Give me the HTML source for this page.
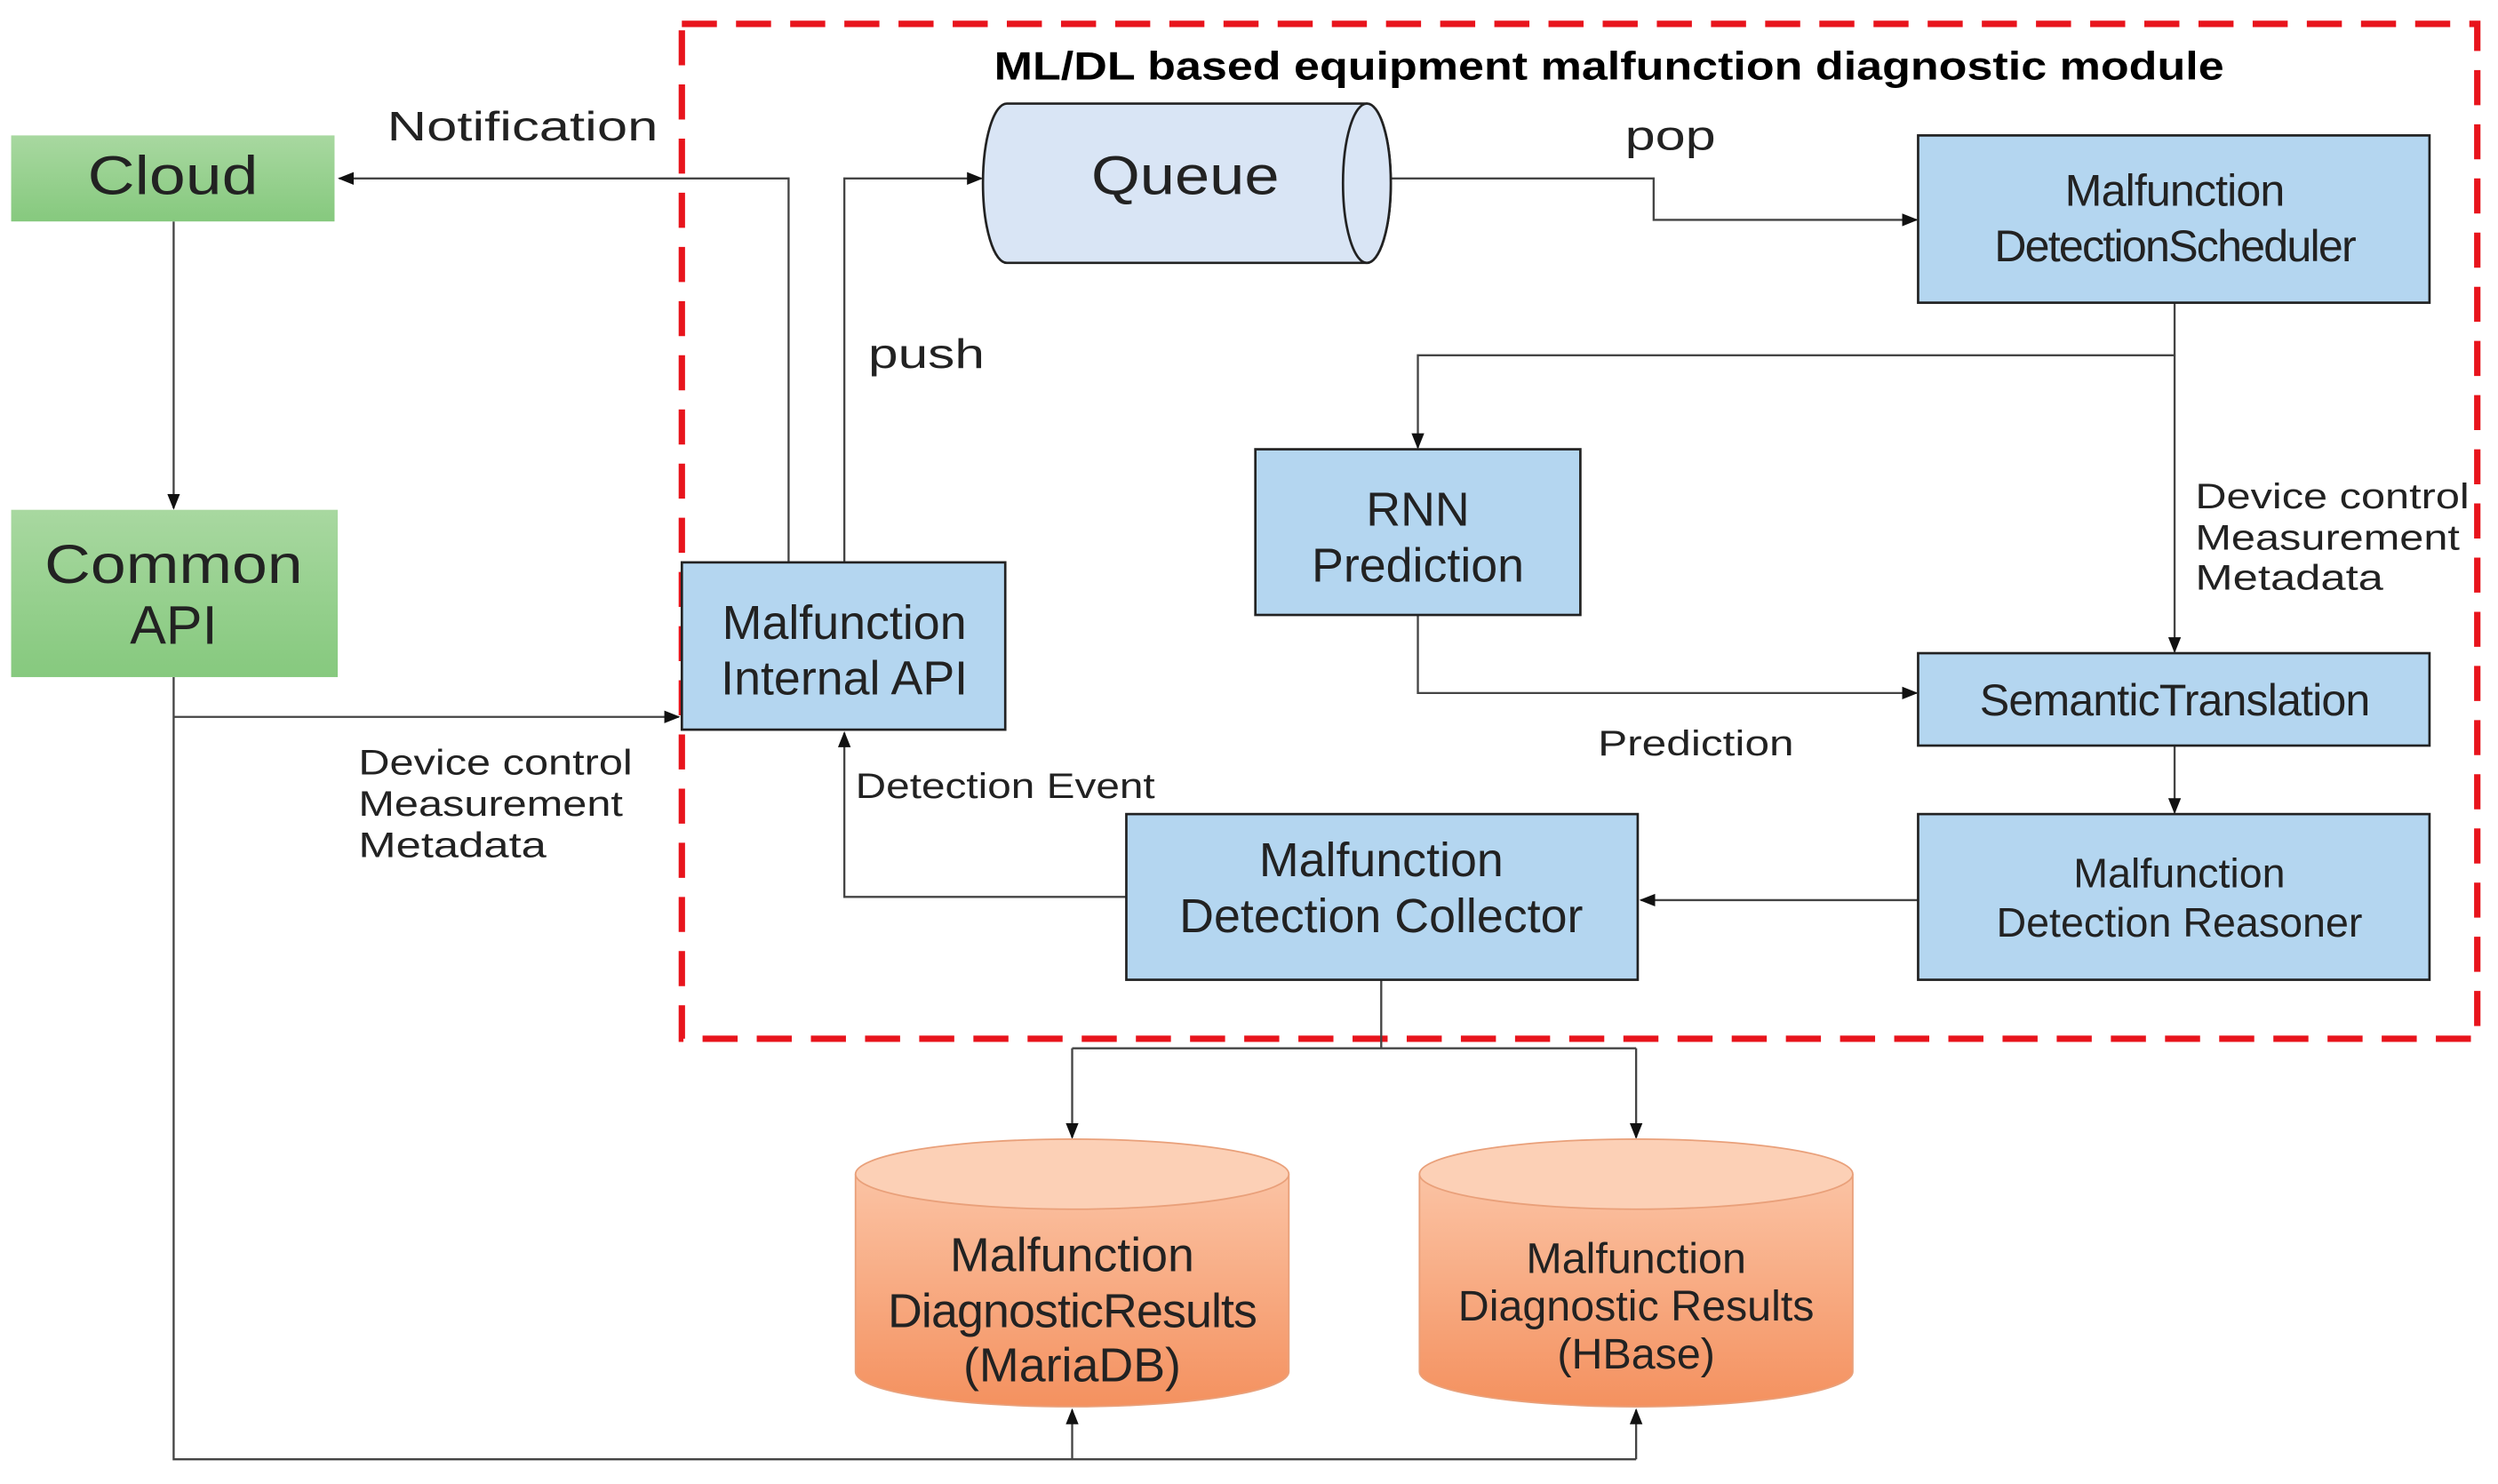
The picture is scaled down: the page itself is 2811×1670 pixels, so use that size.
<!DOCTYPE html>
<html><head><meta charset="utf-8"><style>html,body{margin:0;padding:0;background:#fff}svg{display:block}</style></head>
<body>
<svg width="2811" height="1670" viewBox="0 0 1568 931.5" preserveAspectRatio="none" xmlns="http://www.w3.org/2000/svg" font-family="'Liberation Sans', sans-serif">
<defs>
<linearGradient id="g" x1="0" y1="0" x2="0" y2="1"><stop offset="0" stop-color="#a8d8a0"/><stop offset="1" stop-color="#86c97e"/></linearGradient>
<linearGradient id="o" x1="0" y1="0" x2="0" y2="1"><stop offset="0" stop-color="#fbc3a4"/><stop offset="1" stop-color="#f4915f"/></linearGradient>
<marker id="a" markerWidth="10" markerHeight="10" refX="9" refY="5" orient="auto" markerUnits="userSpaceOnUse"><path d="M0,1 L10,5 L0,9 z" fill="#111"/></marker>
</defs>
<rect x="428" y="15" width="1127" height="637" fill="none" stroke="#e8141c" stroke-width="4" stroke-dasharray="22,12"/>
<text x="624" y="50" font-size="25" font-weight="bold" textLength="772" lengthAdjust="spacingAndGlyphs">ML/DL based equipment malfunction diagnostic module</text>
<g stroke="#444" stroke-width="1.3" fill="none">
<path d="M495,353 V112 H213" marker-end="url(#a)"/>
<path d="M530,353 V112 H616" marker-end="url(#a)"/>
<path d="M873,112 H1038 V138 H1203" marker-end="url(#a)"/>
<path d="M1365,190 V409" marker-end="url(#a)"/>
<path d="M1365,223 H890 V281" marker-end="url(#a)"/>
<path d="M890,386 V435 H1203" marker-end="url(#a)"/>
<path d="M1365,468 V510" marker-end="url(#a)"/>
<path d="M1204,565 H1030" marker-end="url(#a)"/>
<path d="M707,563 H530 V460" marker-end="url(#a)"/>
<path d="M867,615 V658"/>
<path d="M673,658 H1027"/>
<path d="M673,658 V714" marker-end="url(#a)"/>
<path d="M1027,658 V714" marker-end="url(#a)"/>
<path d="M109,139 V319" marker-end="url(#a)"/>
<path d="M109,425 V916 H1027"/>
<path d="M673,916 V885" marker-end="url(#a)"/>
<path d="M1027,916 V885" marker-end="url(#a)"/>
<path d="M109,450 H426" marker-end="url(#a)"/>
</g>
<rect x="7" y="85" width="203" height="54" fill="url(#g)"/>
<text x="55" y="122" font-size="34" fill="#222" textLength="107" lengthAdjust="spacingAndGlyphs">Cloud</text>
<rect x="7" y="320" width="205" height="105" fill="url(#g)"/>
<text x="28" y="366" font-size="34" fill="#222" textLength="162" lengthAdjust="spacingAndGlyphs">Common</text>
<text x="109" y="404" font-size="34" text-anchor="middle" fill="#222">API</text>
<text x="243" y="88" font-size="26" fill="#222" textLength="170" lengthAdjust="spacingAndGlyphs">Notification</text>
<text x="545" y="231" font-size="26" fill="#222" textLength="73" lengthAdjust="spacingAndGlyphs">push</text>
<text x="1020" y="94" font-size="26" fill="#222" textLength="57" lengthAdjust="spacingAndGlyphs">pop</text>
<path d="M632,65 H858 A15,50 0 0 1 858,165 H632 A15,50 0 0 1 632,65 z" fill="#d9e5f5" stroke="#222" stroke-width="1.5"/>
<ellipse cx="858" cy="115" rx="15" ry="50" fill="#d9e5f5" stroke="#222" stroke-width="1.5"/>
<text x="685" y="122" font-size="34" fill="#222" textLength="118" lengthAdjust="spacingAndGlyphs">Queue</text>
<g fill="#b4d6f0" stroke="#222" stroke-width="1.5">
<rect x="1204" y="85" width="321" height="105"/>
<rect x="788" y="282" width="204" height="104"/>
<rect x="1204" y="410" width="321" height="58"/>
<rect x="1204" y="511" width="321" height="104"/>
<rect x="707" y="511" width="321" height="104"/>
<rect x="428" y="353" width="203" height="105"/>
</g>
<g fill="#222" text-anchor="middle">
<text x="1365" y="129" font-size="28" letter-spacing="-0.5">Malfunction</text>
<text x="1365" y="164" font-size="28" letter-spacing="-1">DetectionScheduler</text>
<text x="890" y="330" font-size="30">RNN</text>
<text x="890" y="365" font-size="30">Prediction</text>
<text x="1365" y="449" font-size="28" letter-spacing="-0.5">SemanticTranslation</text>
<text x="1368" y="557" font-size="26">Malfunction</text>
<text x="1368" y="588" font-size="26">Detection Reasoner</text>
<text x="867" y="550" font-size="30">Malfunction</text>
<text x="867" y="585" font-size="30">Detection Collector</text>
<text x="530" y="401" font-size="30">Malfunction</text>
<text x="530" y="436" font-size="30">Internal API</text>
</g>
<g font-size="22" fill="#222">
<text x="1378" y="319" textLength="172" lengthAdjust="spacingAndGlyphs">Device control</text>
<text x="1378" y="345" textLength="166" lengthAdjust="spacingAndGlyphs">Measurement</text>
<text x="1378" y="370" textLength="118" lengthAdjust="spacingAndGlyphs">Metadata</text>
<text x="225" y="486" textLength="172" lengthAdjust="spacingAndGlyphs">Device control</text>
<text x="225" y="512" textLength="166" lengthAdjust="spacingAndGlyphs">Measurement</text>
<text x="225" y="538" textLength="118" lengthAdjust="spacingAndGlyphs">Metadata</text>
<text x="1003" y="474" textLength="123" lengthAdjust="spacingAndGlyphs">Prediction</text>
<text x="537" y="501" textLength="188" lengthAdjust="spacingAndGlyphs">Detection Event</text>
</g>
<g stroke="#e9a07a" stroke-width="1">
<path d="M537,737 V861 A136,22 0 0 0 809,861 V737" fill="url(#o)"/>
<ellipse cx="673" cy="737" rx="136" ry="22" fill="#fcd0b6"/>
<path d="M891,737 V861 A136,22 0 0 0 1163,861 V737" fill="url(#o)"/>
<ellipse cx="1027" cy="737" rx="136" ry="22" fill="#fcd0b6"/>
</g>
<g fill="#222" text-anchor="middle">
<text x="673" y="798" font-size="30">Malfunction</text>
<text x="673" y="833" font-size="30" letter-spacing="-0.5">DiagnosticResults</text>
<text x="673" y="867" font-size="30">(MariaDB)</text>
<text x="1027" y="799" font-size="27">Malfunction</text>
<text x="1027" y="829" font-size="27">Diagnostic Results</text>
<text x="1027" y="859" font-size="27">(HBase)</text>
</g>
</svg>
</body></html>
